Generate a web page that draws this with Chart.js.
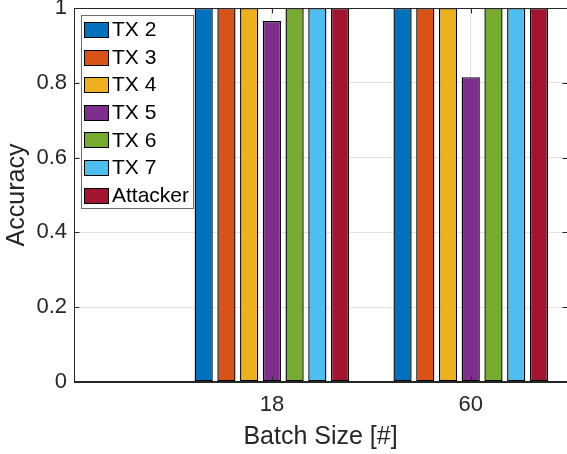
<!DOCTYPE html>
<html>
<head>
<meta charset="utf-8">
<script src="https://cdn.jsdelivr.net/npm/chart.js@4.4.1/dist/chart.umd.min.js"></script>
<style>
  html, body { margin: 0; padding: 0; background: #ffffff; }
  #wrap { width: 567px; height: 454px; }
</style>
</head>
<body>
<div id="wrap"><canvas id="c" width="567" height="454"></canvas></div>
<script>
// Accuracy per transmitter for each batch size
const batchSizes = ['18', '60'];
const seriesNames = ['TX 2', 'TX 3', 'TX 4', 'TX 5', 'TX 6', 'TX 7', 'Attacker'];
const tx2 = [1, 1];
const tx3 = [1, 1];
const tx4 = [1, 1];
const tx5 = [0.965, 0.815];
const tx6 = [1, 1];
const tx7 = [1, 1];
const attacker = [1, 1];
const yTicks = [0, 0.2, 0.4, 0.6, 0.8, 1];

const seriesValues = [tx2, tx3, tx4, tx5, tx6, tx7, attacker];
const palette = ['#0072BD', '#D95319', '#EDB120', '#7E2F8E', '#77AC30', '#4DBEEE', '#A2142F'];
const INK = '#262626';
const EDGE = '#000000';
const FONT = "'Liberation Sans', Arial, Helvetica, sans-serif";

const datasets = seriesNames.map((name, k) => ({
  label: name,
  data: seriesValues[k].map((v, i) => ({ x: i + 1, y: v })),
  backgroundColor: palette[k],
  borderColor: EDGE,
  borderWidth: 1.4,
  borderSkipped: false,
  barPercentage: 0.8,
  categoryPercentage: 0.8
}));

// Frame, inward tick marks and the boxed legend
const axesDecor = {
  id: 'axesDecor',
  afterDatasetsDraw(chart) {
    const { ctx, chartArea: a, scales } = chart;
    const L = Math.round(a.left) + 0.5, R = Math.round(a.right) - 0.5;
    const T = Math.round(a.top) + 0.5, B = Math.round(a.bottom) - 0.5;
    ctx.save();
    ctx.strokeStyle = INK;
    ctx.lineWidth = 1;
    ctx.beginPath();
    ctx.moveTo(L, T); ctx.lineTo(R + 1, T);
    ctx.moveTo(L, T); ctx.lineTo(L, B);
    ctx.moveTo(L, B); ctx.lineTo(R + 1, B);
    const tl = 5;
    yTicks.forEach(v => {
      const y = Math.round(scales.y.getPixelForValue(v)) + 0.5;
      ctx.moveTo(L, y); ctx.lineTo(L + tl, y);
      ctx.moveTo(R + 1, y); ctx.lineTo(R + 1 - tl, y);
    });
    batchSizes.forEach((_, i) => {
      const x = Math.round(scales.x.getPixelForValue(i + 1)) + 0.5;
      ctx.moveTo(x, B); ctx.lineTo(x, B - tl);
      ctx.moveTo(x, T); ctx.lineTo(x, T + tl);
    });
    ctx.stroke();
    ctx.restore();
  },
  afterDraw(chart) {
    const { ctx } = chart;
    const box = { x: 81.5, y: 15.5, w: 112, h: 193 };
    ctx.save();
    ctx.fillStyle = '#ffffff';
    ctx.fillRect(box.x, box.y, box.w, box.h);
    ctx.strokeStyle = '#6e6e6e';
    ctx.lineWidth = 1;
    ctx.strokeRect(box.x, box.y, box.w, box.h);
    ctx.font = '21px ' + FONT;
    ctx.textBaseline = 'middle';
    ctx.textAlign = 'left';
    chart.data.datasets.forEach((ds, k) => {
      const top = 22 + k * 27.6;
      ctx.fillStyle = ds.backgroundColor;
      ctx.fillRect(84.5, Math.round(top) + 0.5, 24, 15);
      ctx.strokeStyle = EDGE;
      ctx.strokeRect(84.5, Math.round(top) + 0.5, 24, 15);
      ctx.fillStyle = '#000000';
      ctx.fillText(ds.label, 112, top + 8.5);
    });
    ctx.restore();
  }
};

new Chart(document.getElementById('c'), {
  type: 'bar',
  data: { datasets },
  plugins: [axesDecor],
  options: {
    responsive: false,
    animation: false,
    devicePixelRatio: 1,
    layout: { padding: { top: 8, right: 0, left: 0, bottom: 0 } },
    plugins: { legend: { display: false }, tooltip: { enabled: false } },
    scales: {
      x: {
        type: 'linear',
        min: 0.005,
        max: 2.484,
        offset: false,
        afterBuildTicks: s => { s.ticks = batchSizes.map((_, i) => ({ value: i + 1 })); },
        afterFit: s => { s.height = 72; s.paddingLeft = 0; s.paddingRight = 0; },
        ticks: {
          autoSkip: false,
          maxRotation: 0,
          padding: 12,
          color: INK,
          font: { family: FONT, size: 22, lineHeight: 1 },
          callback: v => batchSizes[Math.round(v) - 1] ?? ''
        },
        grid: { offset: false, color: '#e3e3e3', drawTicks: false },
        border: { display: true, color: INK },
        title: {
          display: true,
          text: 'Batch Size [#]',
          color: INK,
          font: { family: FONT, size: 25, lineHeight: 1 },
          padding: { top: 0, bottom: 4 }
        }
      },
      y: {
        min: 0,
        max: 1,
        afterBuildTicks: s => { s.ticks = yTicks.map(v => ({ value: v })); },
        afterFit: s => { s.width = 74; s.paddingTop = 0; s.paddingBottom = 0; },
        ticks: {
          padding: 7,
          color: INK,
          font: { family: FONT, size: 22, lineHeight: 1 },
          callback: v => String(v)
        },
        grid: { color: '#e3e3e3', drawTicks: false },
        border: { display: true, color: INK },
        title: {
          display: true,
          text: 'Accuracy',
          color: INK,
          font: { family: FONT, size: 25, lineHeight: 1 },
          padding: { top: 5, bottom: 0 }
        }
      }
    }
  }
});
</script>
</body>
</html>
